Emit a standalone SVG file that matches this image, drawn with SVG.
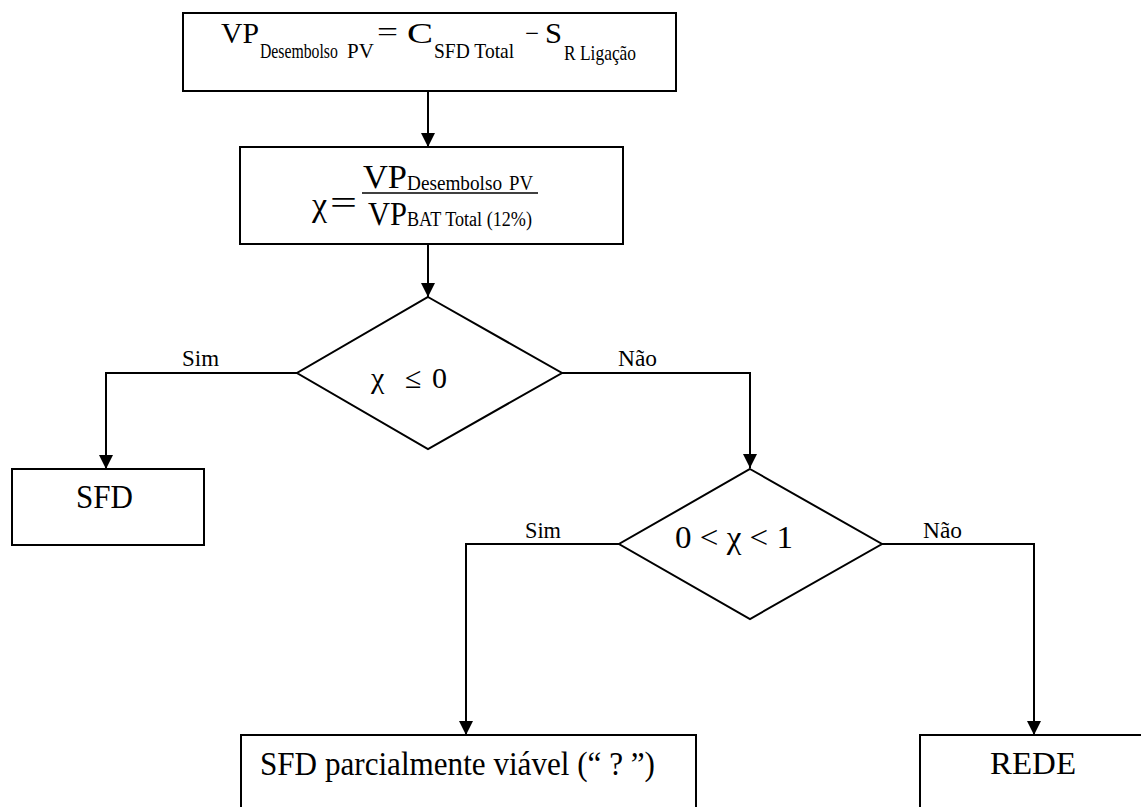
<svg xmlns="http://www.w3.org/2000/svg" width="1141" height="807" viewBox="0 0 1141 807">
<style>
.box{fill:#fff;stroke:#000;stroke-width:2}
.t{font-family:"Liberation Serif","Times New Roman",serif;fill:#000}
.conn{fill:none;stroke:#000;stroke-width:2}
</style>
<defs>
<marker id="arr" markerUnits="userSpaceOnUse" markerWidth="14" markerHeight="14" refX="14" refY="7" orient="auto" viewBox="0 0 14 14">
<path d="M0,0 L14,7 L0,14 z" fill="#000"/>
</marker>
</defs>
<rect width="1141" height="807" fill="#fff"/>
<g id="connectors">
<path class="conn" d="M428,91 V147" marker-end="url(#arr)"/>
<path class="conn" d="M428,244 V297" marker-end="url(#arr)"/>
<path class="conn" d="M297,373 H106 V469" marker-end="url(#arr)"/>
<path class="conn" d="M562,373 H750 V468" marker-end="url(#arr)"/>
<path class="conn" d="M619,544 H466 V735" marker-end="url(#arr)"/>
<path class="conn" d="M882,544 H1034 V735" marker-end="url(#arr)"/>
<text class="t" x="182" y="366" font-size="23" textLength="37" lengthAdjust="spacingAndGlyphs">Sim</text>
<text class="t" x="618" y="366" font-size="23" textLength="39" lengthAdjust="spacingAndGlyphs">Não</text>
<text class="t" x="525" y="538" font-size="23" textLength="36" lengthAdjust="spacingAndGlyphs">Sim</text>
<text class="t" x="923" y="538" font-size="23" textLength="39" lengthAdjust="spacingAndGlyphs">Não</text>
</g>
<g id="n1">
<rect class="box" x="183" y="13" width="493" height="78"/>
<text class="t" x="221" y="43" font-size="29" textLength="38" lengthAdjust="spacingAndGlyphs">VP</text>
<text class="t" font-size="21" transform="translate(260,58) scale(0.75,1)">Desembolso</text>
<text class="t" x="347" y="58" font-size="21">PV</text>
<text class="t" x="377" y="41" font-size="27" textLength="21" lengthAdjust="spacingAndGlyphs">=</text>
<text class="t" x="407" y="43" font-size="29" textLength="26" lengthAdjust="spacingAndGlyphs">C</text>
<text class="t" font-size="21" transform="translate(434,58) scale(0.93,1)">SFD Total</text>
<text class="t" x="525" y="43" font-size="29" textLength="14" lengthAdjust="spacingAndGlyphs">−</text>
<text class="t" x="545" y="43" font-size="29" textLength="17" lengthAdjust="spacingAndGlyphs">S</text>
<text class="t" font-size="21" transform="translate(564,60) scale(0.83,1)">R Ligação</text>
</g>
<g id="n2">
<rect class="box" x="240" y="147" width="383" height="97"/>
<text class="t" x="312" y="216" font-size="34">χ</text>
<text class="t" x="330" y="214" font-size="34" textLength="27" lengthAdjust="spacingAndGlyphs">=</text>
<text class="t" x="363" y="188" font-size="34" textLength="44" lengthAdjust="spacingAndGlyphs">VP</text>
<text class="t" y="190" font-size="20"><tspan x="407" textLength="95" lengthAdjust="spacingAndGlyphs">Desembolso</tspan><tspan x="509" textLength="24" lengthAdjust="spacingAndGlyphs">PV</tspan></text>
<line x1="362" y1="193" x2="538" y2="193" stroke="#000" stroke-width="1.5"/>
<text class="t" x="368" y="225" font-size="34" textLength="39" lengthAdjust="spacingAndGlyphs">VP</text>
<text class="t" x="407" y="226" font-size="20" textLength="125" lengthAdjust="spacingAndGlyphs">BAT Total (12%)</text>
</g>
<g id="d1">
<polygon class="box" points="428,297 562,373 428,449 297,373"/>
<text class="t" x="371" y="388" font-size="30">χ</text>
<text class="t" x="405" y="388" font-size="30">≤</text>
<text class="t" x="432" y="388" font-size="30">0</text>
</g>
<g id="sfd">
<rect class="box" x="12" y="469" width="192" height="76"/>
<text class="t" x="76" y="508" font-size="34" textLength="57" lengthAdjust="spacingAndGlyphs">SFD</text>
</g>
<g id="d2">
<polygon class="box" points="750,469 882,544 750,619 619,544"/>
<text class="t" x="675" y="548" font-size="31" textLength="118" lengthAdjust="spacingAndGlyphs">0 &lt; χ &lt; 1</text>
</g>
<g id="n3">
<rect class="box" x="241" y="735" width="455" height="90"/>
<text class="t" x="260" y="775" font-size="33" textLength="395" lengthAdjust="spacingAndGlyphs">SFD parcialmente viável (“ ? ”)</text>
</g>
<g id="n4">
<rect class="box" x="920" y="735" width="240" height="90"/>
<text class="t" x="990" y="774" font-size="32" textLength="86" lengthAdjust="spacingAndGlyphs">REDE</text>
</g>
</svg>
